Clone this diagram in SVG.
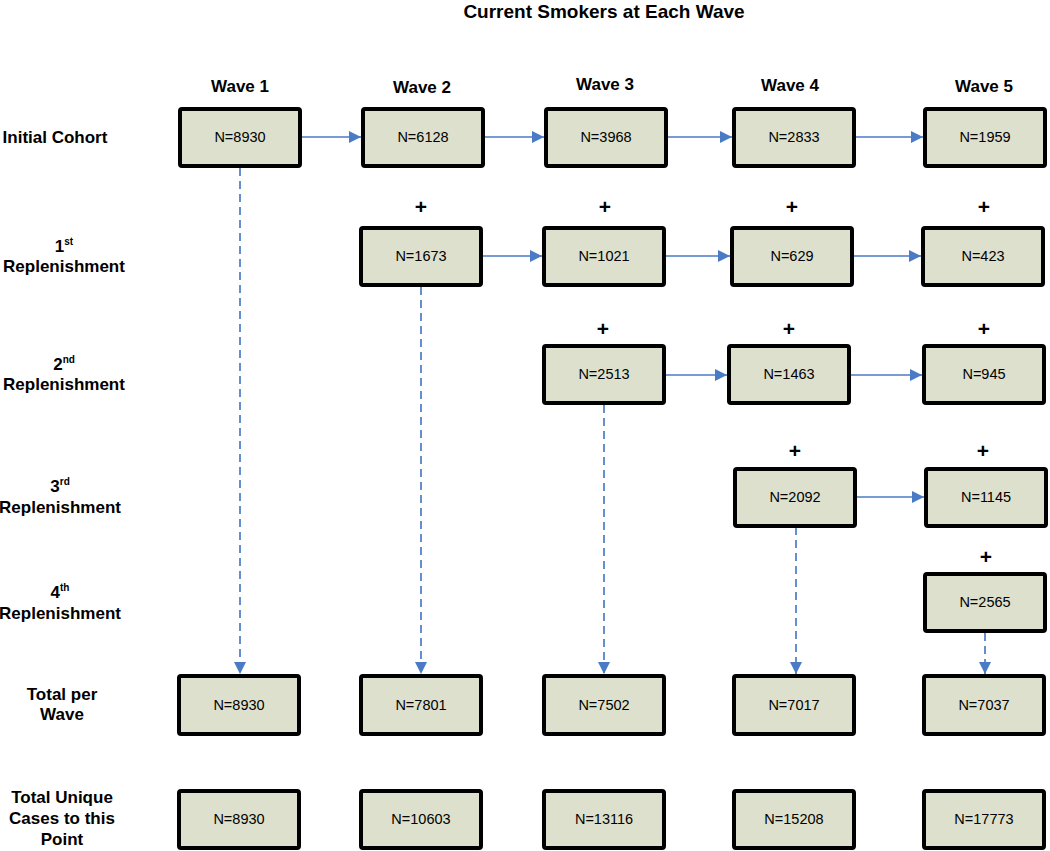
<svg xmlns="http://www.w3.org/2000/svg" width="1050" height="851" viewBox="0 0 1050 851">
<style>
.box{fill:#dde0cc;stroke:#000;stroke-width:4}
.n{font-family:"Liberation Sans",Arial,sans-serif;font-size:14.5px;fill:#000;text-anchor:middle}
.h{font-family:"Liberation Sans",Arial,sans-serif;font-size:17px;font-weight:bold;fill:#000;text-anchor:middle}
.t{font-family:"Liberation Sans",Arial,sans-serif;font-size:19px;font-weight:bold;fill:#000;text-anchor:middle}
.p{font-family:"Liberation Sans",Arial,sans-serif;font-size:21px;font-weight:bold;fill:#000;text-anchor:middle}
.s{font-size:10px}
.a{stroke:#4a7bc4;stroke-width:1.7;fill:none}
.d{stroke:#4a7bc4;stroke-width:1.7;fill:none;stroke-dasharray:8 5}
</style>
<defs>
<marker id="ah" viewBox="0 0 10 10" refX="10" refY="5" markerWidth="13" markerHeight="12" markerUnits="userSpaceOnUse" orient="auto">
<path d="M0,0 L10,5 L0,10 Z" fill="#4a7bc4"/>
</marker>
</defs>
<rect width="1050" height="851" fill="#fff"/>
<text class="t" x="604" y="18">Current Smokers at Each Wave</text>
<g id="headers">
<text class="h" x="240" y="92">Wave 1</text>
<text class="h" x="422" y="93">Wave 2</text>
<text class="h" x="605" y="90">Wave 3</text>
<text class="h" x="790" y="91">Wave 4</text>
<text class="h" x="984" y="92">Wave 5</text>
</g>
<g id="row-labels">
<text class="h" x="55" y="143">Initial Cohort</text>
<text class="h" x="64" y="252">1<tspan class="s" dy="-7">st</tspan></text>
<text class="h" x="64" y="272">Replenishment</text>
<text class="h" x="64" y="370">2<tspan class="s" dy="-7">nd</tspan></text>
<text class="h" x="64" y="390">Replenishment</text>
<text class="h" x="60" y="492">3<tspan class="s" dy="-7">rd</tspan></text>
<text class="h" x="60" y="513">Replenishment</text>
<text class="h" x="60" y="598">4<tspan class="s" dy="-7">th</tspan></text>
<text class="h" x="60" y="619">Replenishment</text>
<text class="h" x="62" y="700">Total per</text>
<text class="h" x="62" y="720">Wave</text>
<text class="h" x="62" y="803">Total Unique</text>
<text class="h" x="62" y="824">Cases to this</text>
<text class="h" x="62" y="845">Point</text>
</g>
<g id="plus-signs">
<text class="p" x="421" y="214">+</text>
<text class="p" x="605" y="214">+</text>
<text class="p" x="792" y="214">+</text>
<text class="p" x="984" y="214">+</text>
<text class="p" x="603" y="336">+</text>
<text class="p" x="789" y="336">+</text>
<text class="p" x="984" y="336">+</text>
<text class="p" x="795" y="458">+</text>
<text class="p" x="983" y="458">+</text>
<text class="p" x="986" y="564">+</text>
</g>
<g id="connectors">
<line class="a" x1="302" y1="137" x2="361" y2="137" marker-end="url(#ah)"/>
<line class="a" x1="485" y1="137" x2="544" y2="137" marker-end="url(#ah)"/>
<line class="a" x1="668" y1="137" x2="732" y2="137" marker-end="url(#ah)"/>
<line class="a" x1="856" y1="137" x2="923" y2="137" marker-end="url(#ah)"/>
<line class="a" x1="483" y1="256" x2="542" y2="256" marker-end="url(#ah)"/>
<line class="a" x1="666" y1="256" x2="730" y2="256" marker-end="url(#ah)"/>
<line class="a" x1="854" y1="256" x2="921" y2="256" marker-end="url(#ah)"/>
<line class="a" x1="666" y1="375" x2="727" y2="375" marker-end="url(#ah)"/>
<line class="a" x1="851" y1="375" x2="922" y2="375" marker-end="url(#ah)"/>
<line class="a" x1="857" y1="497" x2="924" y2="497" marker-end="url(#ah)"/>
<line class="d" x1="240" y1="168" x2="240" y2="674" marker-end="url(#ah)"/>
<line class="d" x1="421" y1="287" x2="421" y2="674" marker-end="url(#ah)"/>
<line class="d" x1="604" y1="405" x2="604" y2="674" marker-end="url(#ah)"/>
<line class="d" x1="796" y1="527" x2="796" y2="674" marker-end="url(#ah)"/>
<line class="d" x1="985" y1="633" x2="985" y2="674" marker-end="url(#ah)"/>
</g>
<g id="ic-w1"><rect class="box" x="180" y="109" width="120" height="57" rx="2"/><text class="n" x="240" y="142">N=8930</text></g>
<g id="ic-w2"><rect class="box" x="363" y="109" width="120" height="57" rx="2"/><text class="n" x="423" y="142">N=6128</text></g>
<g id="ic-w3"><rect class="box" x="546" y="109" width="120" height="57" rx="2"/><text class="n" x="606" y="142">N=3968</text></g>
<g id="ic-w4"><rect class="box" x="734" y="109" width="120" height="57" rx="2"/><text class="n" x="794" y="142">N=2833</text></g>
<g id="ic-w5"><rect class="box" x="925" y="109" width="120" height="57" rx="2"/><text class="n" x="985" y="142">N=1959</text></g>
<g id="r1-w2"><rect class="box" x="361" y="228" width="120" height="57" rx="2"/><text class="n" x="421" y="261">N=1673</text></g>
<g id="r1-w3"><rect class="box" x="544" y="228" width="120" height="57" rx="2"/><text class="n" x="604" y="261">N=1021</text></g>
<g id="r1-w4"><rect class="box" x="732" y="228" width="120" height="57" rx="2"/><text class="n" x="792" y="261">N=629</text></g>
<g id="r1-w5"><rect class="box" x="923" y="228" width="120" height="57" rx="2"/><text class="n" x="983" y="261">N=423</text></g>
<g id="r2-w3"><rect class="box" x="544" y="346" width="120" height="57" rx="2"/><text class="n" x="604" y="379">N=2513</text></g>
<g id="r2-w4"><rect class="box" x="729" y="346" width="120" height="57" rx="2"/><text class="n" x="789" y="379">N=1463</text></g>
<g id="r2-w5"><rect class="box" x="924" y="346" width="120" height="57" rx="2"/><text class="n" x="984" y="379">N=945</text></g>
<g id="r3-w4"><rect class="box" x="735" y="469" width="120" height="57" rx="2"/><text class="n" x="795" y="502">N=2092</text></g>
<g id="r3-w5"><rect class="box" x="926" y="469" width="120" height="57" rx="2"/><text class="n" x="986" y="502">N=1145</text></g>
<g id="r4-w5"><rect class="box" x="925" y="574" width="120" height="57" rx="2"/><text class="n" x="985" y="607">N=2565</text></g>
<g id="tot-w1"><rect class="box" x="179" y="676" width="120" height="58" rx="2"/><text class="n" x="239" y="710">N=8930</text></g>
<g id="tot-w2"><rect class="box" x="361" y="676" width="120" height="58" rx="2"/><text class="n" x="421" y="710">N=7801</text></g>
<g id="tot-w3"><rect class="box" x="544" y="676" width="120" height="58" rx="2"/><text class="n" x="604" y="710">N=7502</text></g>
<g id="tot-w4"><rect class="box" x="734" y="676" width="120" height="58" rx="2"/><text class="n" x="794" y="710">N=7017</text></g>
<g id="tot-w5"><rect class="box" x="924" y="676" width="120" height="58" rx="2"/><text class="n" x="984" y="710">N=7037</text></g>
<g id="uniq-w1"><rect class="box" x="179" y="791" width="120" height="57" rx="2"/><text class="n" x="239" y="824">N=8930</text></g>
<g id="uniq-w2"><rect class="box" x="361" y="791" width="120" height="57" rx="2"/><text class="n" x="421" y="824">N=10603</text></g>
<g id="uniq-w3"><rect class="box" x="544" y="791" width="120" height="57" rx="2"/><text class="n" x="604" y="824">N=13116</text></g>
<g id="uniq-w4"><rect class="box" x="734" y="791" width="120" height="57" rx="2"/><text class="n" x="794" y="824">N=15208</text></g>
<g id="uniq-w5"><rect class="box" x="924" y="791" width="120" height="57" rx="2"/><text class="n" x="984" y="824">N=17773</text></g>
</svg>
